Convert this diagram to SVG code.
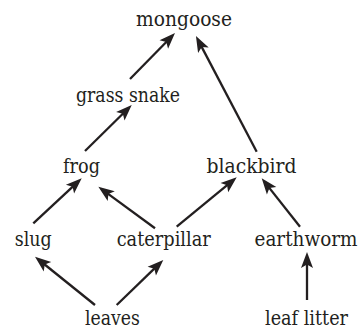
<svg xmlns="http://www.w3.org/2000/svg" width="364" height="329" viewBox="0 0 364 329">
<style>
.t text{font-family:'DejaVu Serif','Liberation Serif',serif;font-size:20.5px;fill:#231f20;text-anchor:middle}
.c line{stroke:#231f20;stroke-width:2.3;marker-end:url(#ah)}
</style>
<defs>
<marker id="ah" markerUnits="userSpaceOnUse" viewBox="-17 -7 18 14" refX="-10" refY="0" markerWidth="18" markerHeight="14" orient="auto" overflow="visible">
<path d="M0,0 L-16,-6 L-12.5,0 L-16,6 Z" fill="#231f20"/>
</marker>
</defs>
<rect width="364" height="329" fill="#fff"/>
<g class="c" id="connectors">
<line x1="130" y1="79" x2="168.0" y2="40.2"/>
<line x1="256.7" y1="151.7" x2="200.6" y2="44.9"/>
<line x1="85" y1="151" x2="124.6" y2="112.0"/>
<line x1="33.3" y1="223.3" x2="74.4" y2="185.1"/>
<line x1="155" y1="228.3" x2="106.4" y2="192.6"/>
<line x1="176.7" y1="226.7" x2="229.0" y2="183.7"/>
<line x1="300" y1="226.7" x2="267.9" y2="186.1"/>
<line x1="95" y1="305" x2="42.8" y2="263.0"/>
<line x1="116.7" y1="305" x2="156.1" y2="266.9"/>
<line x1="307" y1="300" x2="307" y2="262"/>
</g>
<g class="t">
<g id="mongoose"><text x="184" y="26" textLength="96" lengthAdjust="spacingAndGlyphs">mongoose</text></g>
<g id="grass-snake"><text x="128" y="102" textLength="104" lengthAdjust="spacingAndGlyphs">grass snake</text></g>
<g id="frog"><text x="81.5" y="173" textLength="37" lengthAdjust="spacingAndGlyphs">frog</text></g>
<g id="blackbird"><text x="251.5" y="173" textLength="90" lengthAdjust="spacingAndGlyphs">blackbird</text></g>
<g id="slug"><text x="33.2" y="245.5" textLength="37" lengthAdjust="spacingAndGlyphs">slug</text></g>
<g id="caterpillar"><text x="163.7" y="245.5" textLength="94" lengthAdjust="spacingAndGlyphs">caterpillar</text></g>
<g id="earthworm"><text x="306" y="245.5" style="font-size:19.5px" textLength="103" lengthAdjust="spacingAndGlyphs">earthworm</text></g>
<g id="leaves"><text x="112.5" y="324.5" textLength="55" lengthAdjust="spacingAndGlyphs">leaves</text></g>
<g id="leaf-litter"><text x="306.5" y="324.5" textLength="83" lengthAdjust="spacingAndGlyphs">leaf litter</text></g>
</g>
</svg>
